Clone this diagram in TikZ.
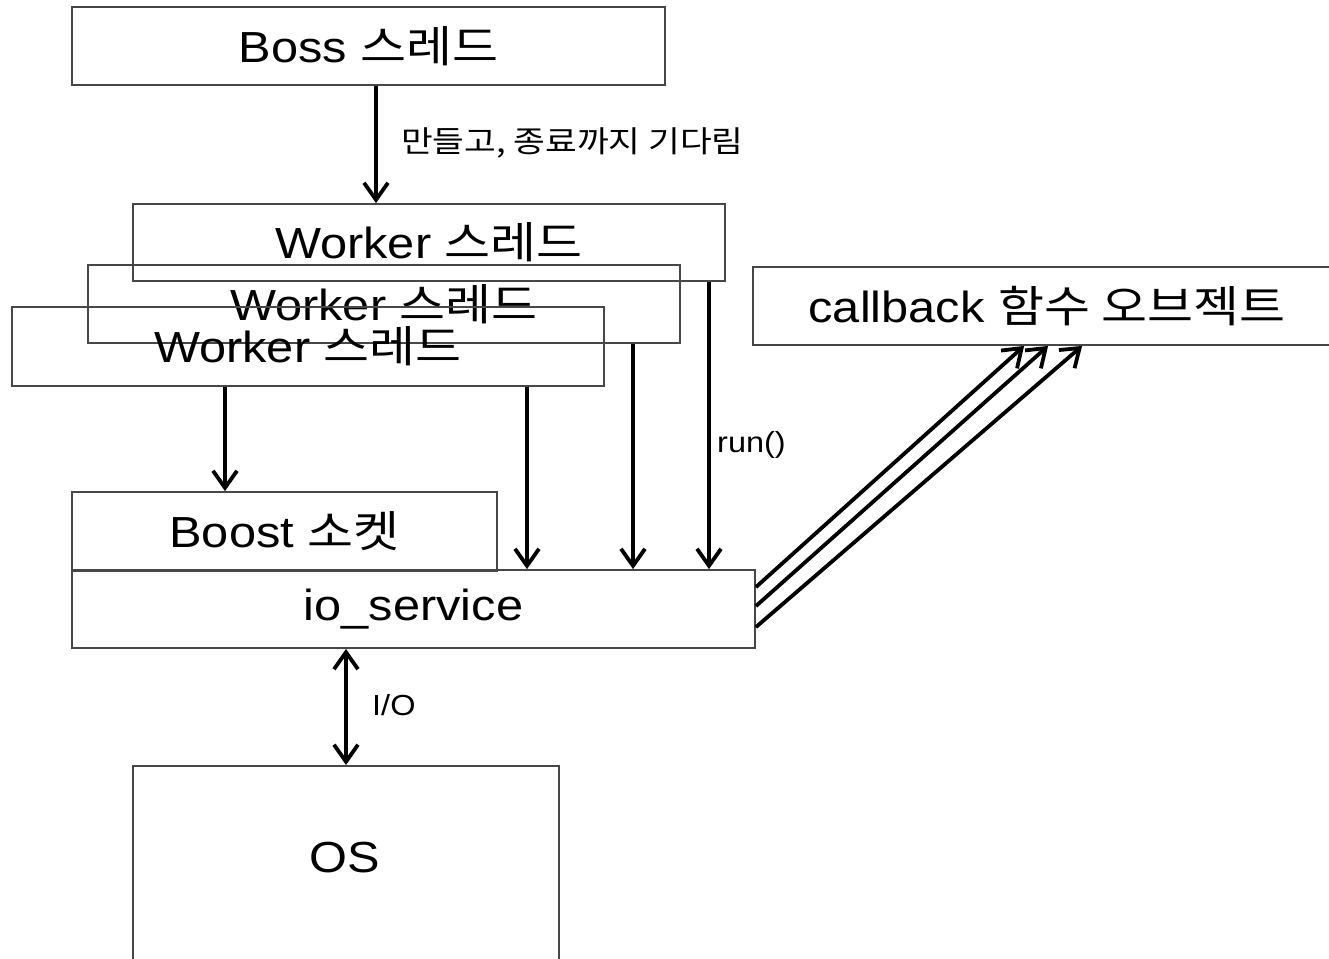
\documentclass[tikz,border=0pt]{standalone}
\usepackage{fontspec}
\setmainfont{Liberation Sans}[FakeStretch=1.12]
\newfontfamily\kr{Noto Sans CJK KR}[FakeStretch=1.15]
\usetikzlibrary{arrows.meta,calc}
\tikzset{
  box/.style={draw=black!72, line width=1.8pt, inner sep=0pt, font=\fontsize{43.5}{52}\selectfont},
  arr/.style={line width=3.8pt, -{Straight Barb[length=17pt,width=24pt,line width=3.8pt]}},
  darr/.style={line width=3.8pt, {Straight Barb[length=17pt,width=24pt,line width=3.8pt]}-{Straight Barb[length=17pt,width=24pt,line width=3.8pt]}},
  lbl/.style={font=\fontsize{29}{33}\selectfont, anchor=west, inner sep=0pt},
}
\begin{document}
\begin{tikzpicture}[x=1pt,y=-1pt]
\useasboundingbox (0,0) rectangle (1329,958);
\clip (0,0) rectangle (1329,958);
\fill[white] (0,0) rectangle (1329,958);

\node[box, minimum width=593pt, minimum height=78pt] (boss) at (368.5,46) {Boss {\kr 스레드}};
\node[box, minimum width=592pt, minimum height=77pt] (w1) at (429,242.5) {Worker {\kr 스레드}};
\node[box, minimum width=592pt, minimum height=78pt] (w2) at (384,304) {Worker {\kr 스레드}};
\node[box, minimum width=592pt, minimum height=79pt] (w3) at (308,346.5) {Worker {\kr 스레드}};
\node[box, minimum width=425pt, minimum height=79pt] (bst) at (284.5,531.5) {Boost {\kr 소켓}};
\node[box, minimum width=683pt, minimum height=78pt] (io) at (413.5,609) {io\_service};
\node[box, minimum width=588pt, minimum height=78pt] (cb) at (1047,306) {callback {\kr 함수 오브젝트}};
\node[box, minimum width=426pt, minimum height=240pt, anchor=north] (os) at (346,765) {};
\node[font=\fontsize{43.5}{52}\selectfont, inner sep=0pt] (ostxt) at (345,858) {OS};

\coordinate (xa) at (376,0);
\coordinate (xb) at (225,0);
\coordinate (xc) at (527,0);
\coordinate (xd) at (633,0);
\coordinate (xe) at (709,0);
\coordinate (xf) at (346,0);

\draw[arr] (boss.south -| xa) -- (w1.north -| xa);
\node[lbl, font=\kr\fontsize{30}{34}\selectfont] (l1) at (401,143) {만들고, 종료까지 기다림};

\draw[arr] (w3.south -| xb) -- (bst.north -| xb);
\draw[arr] (w3.south -| xc) -- (io.north -| xc);
\draw[arr] (w2.south -| xd) -- (io.north -| xd);
\draw[arr] (w1.south -| xe) -- (io.north -| xe);
\node[lbl] (l2) at (717,445) {run()};

\draw[arr] ($(io.north east)+(0,18)$) -- ($(cb.south west)+(272,0)$);
\draw[arr] ($(io.north east)+(0,37)$) -- ($(cb.south west)+(296,0)$);
\draw[arr] ($(io.north east)+(0,58)$) -- ($(cb.south west)+(330,0)$);

\draw[darr] (io.south -| xf) -- (os.north -| xf);
\node[lbl] (l3) at (372,705) {I/O};
\end{tikzpicture}
\end{document}
